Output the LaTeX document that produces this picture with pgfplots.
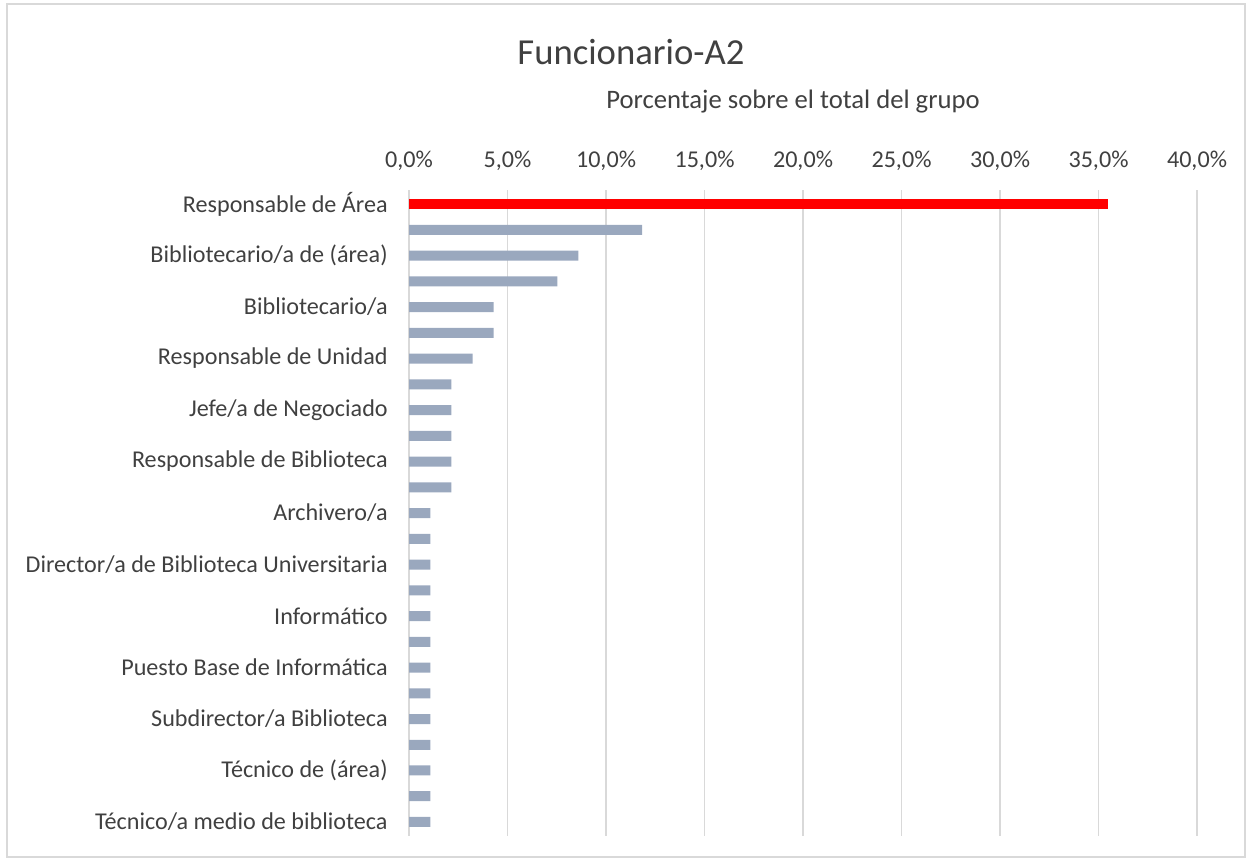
\documentclass[border=0pt]{standalone}
\usepackage{pgfplots}
\pgfplotsset{compat=1.18}
\usepackage{fontspec}
\setmainfont{Carlito}
\definecolor{bargray}{RGB}{154,168,190}
\definecolor{gridgray}{RGB}{217,217,217}
\definecolor{txt}{RGB}{64,64,64}
\definecolor{framegray}{RGB}{217,217,217}
\begin{document}
\begin{tikzpicture}
\begin{scope}[x=0.75pt,y=-0.75pt]
\path[use as bounding box] (0,0) rectangle (1252,861);
\draw[framegray, line width=1.2pt] (7,4) rectangle (1245,857);
\end{scope}
\begin{axis}[
  at={(306.75pt,-627pt)}, anchor=south west,
  scale only axis, width=591pt, height=484.5pt,
  xmin=0, xmax=40, ymin=-0.545, ymax=24.545,
  y dir=reverse,
  axis line style={draw=none},
  xtick={0,5,...,40},
  xticklabel pos=top,
  xticklabel={\pgfmathprintnumber[fixed,fixed zerofill,precision=1,use comma]{\tick}\%},
  /pgf/number format/assume math mode=true,
  major tick length=0pt,
  xmajorgrids, grid style={gridgray, line width=1.1pt},
  ytick={0,2,...,24},
  yticklabels={Responsable de Área, Bibliotecario/a de (área), Bibliotecario/a, Responsable de Unidad, Jefe/a de Negociado, Responsable de Biblioteca, Archivero/a, Director/a de Biblioteca Universitaria, Informático, Puesto Base de Informática, Subdirector/a Biblioteca, Técnico de (área), Técnico/a medio de biblioteca},
  tick label style={font=\fontsize{18.1}{21}\selectfont, text=txt},
  xticklabel style={yshift=11pt},
  yticklabel style={xshift=-12.5pt},
  clip=false,
]
\addplot[xbar, bar width=7.5pt, bar shift=0pt, fill=red, draw=none] coordinates {(35.48,0)};
\addplot[xbar, bar width=7.5pt, bar shift=0pt, fill=bargray, draw=none] coordinates {
(11.83,1) (8.60,2) (7.53,3) (4.30,4) (4.30,5) (3.23,6)
(2.15,7) (2.15,8) (2.15,9) (2.15,10) (2.15,11)
(1.08,12) (1.08,13) (1.08,14) (1.08,15) (1.08,16) (1.08,17) (1.08,18)
(1.08,19) (1.08,20) (1.08,21) (1.08,22) (1.08,23) (1.08,24)};
\end{axis}
\begin{scope}[x=0.75pt,y=-0.75pt]
\node[text=txt, font=\fontsize{27.5}{32}\selectfont] at (631,52) {Funcionario-A2};
\node[text=txt, font=\fontsize{20}{24}\selectfont] at (793,102) {Porcentaje sobre el total del grupo};
\end{scope}
\end{tikzpicture}
\end{document}
